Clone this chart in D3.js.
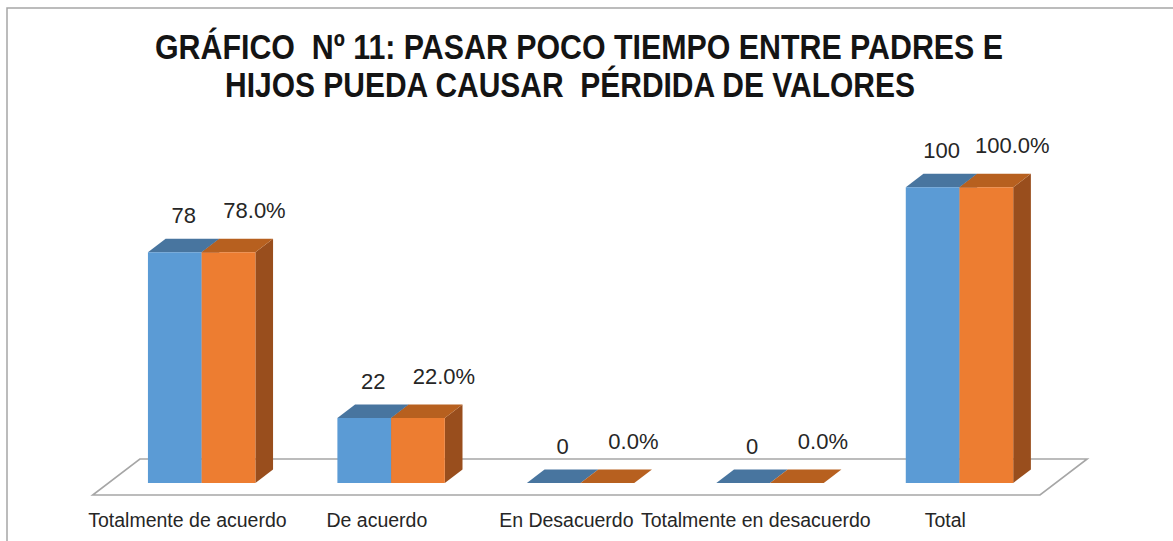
<!DOCTYPE html>
<html>
<head>
<meta charset="utf-8">
<script src="https://cdn.jsdelivr.net/npm/d3@7"></script>
<style>
  html, body { margin: 0; padding: 0; background: #fff; }
  svg { display: block; }
</style>
</head>
<body>
<div id="chart"></div>
<script>
const categories = ['Totalmente de acuerdo', 'De acuerdo', 'En Desacuerdo', 'Totalmente en desacuerdo', 'Total']
const frecuencia = [78, 22, 0, 0, 100]
const porcentaje = [78.0, 22.0, 0.0, 0.0, 100.0]
const titleLines = ['GRÁFICO  Nº 11: PASAR POCO TIEMPO ENTRE PADRES E', 'HIJOS PUEDA CAUSAR  PÉRDIDA DE VALORES']

const W = 1173, H = 541
const svg = d3.select('#chart').append('svg').attr('width', W).attr('height', H)

// chart frame (runs off the right / bottom edge in the picture)
svg.append('rect')
  .attr('x', 7).attr('y', 8).attr('width', W + 20).attr('height', H + 20)
  .attr('fill', '#fff').attr('stroke', '#a6a6a6').attr('stroke-width', 1.5)

// title
const titleX = [579, 570], titleY = [59, 97], titleLen = [848, 690]
svg.selectAll('text.title').data(titleLines).join('text')
  .attr('class', 'title')
  .attr('x', (d, i) => titleX[i]).attr('y', (d, i) => titleY[i])
  .attr('text-anchor', 'middle')
  .attr('textLength', (d, i) => titleLen[i])
  .attr('lengthAdjust', 'spacingAndGlyphs')
  .style('font-family', '"Liberation Sans", Arial, sans-serif')
  .style('font-weight', 'bold')
  .style('font-size', '35px')
  .style('fill', '#141414')
  .style('white-space', 'pre')
  .text(d => d)

// oblique 3d projection: z is depth from the floor front edge
const KX = 1.31, KY = 1
const P = (x, y, z) => [x + z * KX, y - z * KY]
const FLOOR_D = 36, BAR_Z0 = 12, BAR_Z1 = 25.5

const x = d3.scaleBand().domain(categories).range([92.7, 1040])
const pairW = x.step() * 0.567
const xs = d3.scaleBand().domain(['frecuencia', 'porcentaje']).range([0, pairW])
const y = d3.scaleLinear().domain([0, 100]).range([495, 199.3])

const poly = pts => pts.map(p => p.join(',')).join(' ')

// floor
const fx0 = x.range()[0], fx1 = x.range()[1], fy = y(0)
svg.append('polygon')
  .attr('points', poly([P(fx0, fy, 0), P(fx1, fy, 0), P(fx1, fy, FLOOR_D), P(fx0, fy, FLOOR_D)]))
  .attr('fill', '#fff').attr('stroke', '#a6a6a6').attr('stroke-width', 1.6)

const series = [
  { key: 'frecuencia', values: frecuencia, front: '#5b9bd5', top: '#48759f', side: '#3d6a93' },
  { key: 'porcentaje', values: porcentaje, front: '#ed7d31', top: '#b7601f', side: '#994e1d' }
]

const bars = []
categories.forEach((c, i) => {
  series.forEach(s => {
    const x0 = x(c) + (x.bandwidth() - pairW) / 2 + xs(s.key) - 1.5
    const x1 = x0 + xs.bandwidth()
    bars.push({ c, s, v: s.values[i], x0, x1 })
  })
})

const g = svg.append('g')
bars.forEach(b => {
  const yt = y(b.v), yb = y(0)
  const bg = g.append('g')
  // right side
  if (b.v > 0) {
    bg.append('polygon')
      .attr('points', poly([P(b.x1, yb, BAR_Z0), P(b.x1, yb, BAR_Z1), P(b.x1, yt, BAR_Z1), P(b.x1, yt, BAR_Z0)]))
      .attr('fill', b.s.side)
  }
  // top
  bg.append('polygon')
    .attr('points', poly([P(b.x0, yt, BAR_Z0), P(b.x1, yt, BAR_Z0), P(b.x1, yt, BAR_Z1), P(b.x0, yt, BAR_Z1)]))
    .attr('fill', b.s.top)
  // front
  if (b.v > 0) {
    bg.append('polygon')
      .attr('points', poly([P(b.x0, yb, BAR_Z0), P(b.x1, yb, BAR_Z0), P(b.x1, yt, BAR_Z0), P(b.x0, yt, BAR_Z0)]))
      .attr('fill', b.s.front)
  }
})

// data labels
const fmtCount = d3.format('d')
const fmtPct = v => d3.format('.1f')(v) + '%'
const labelDx = { frecuencia: 9, porcentaje: 26 }
const labelDy = { frecuencia: 29, porcentaje: 34 }
g.selectAll('text.value').data(bars).join('text')
  .attr('class', 'value')
  .attr('x', b => P((b.x0 + b.x1) / 2, 0, BAR_Z0)[0] + labelDx[b.s.key])
  .attr('y', b => P(0, y(b.v), BAR_Z0)[1] - labelDy[b.s.key])
  .attr('text-anchor', 'middle')
  .style('font-family', '"Liberation Sans", Arial, sans-serif')
  .style('font-size', '22px')
  .style('fill', '#262626')
  .text(b => b.s.key === 'frecuencia' ? fmtCount(b.v) : fmtPct(b.v))

// category labels
svg.selectAll('text.cat').data(categories).join('text')
  .attr('class', 'cat')
  .attr('x', c => x(c) + x.bandwidth() / 2)
  .attr('y', 527)
  .attr('text-anchor', 'middle')
  .style('font-family', '"Liberation Sans", Arial, sans-serif')
  .style('font-size', '19.5px')
  .style('fill', '#262626')
  .text(c => c)
</script>
</body>
</html>
